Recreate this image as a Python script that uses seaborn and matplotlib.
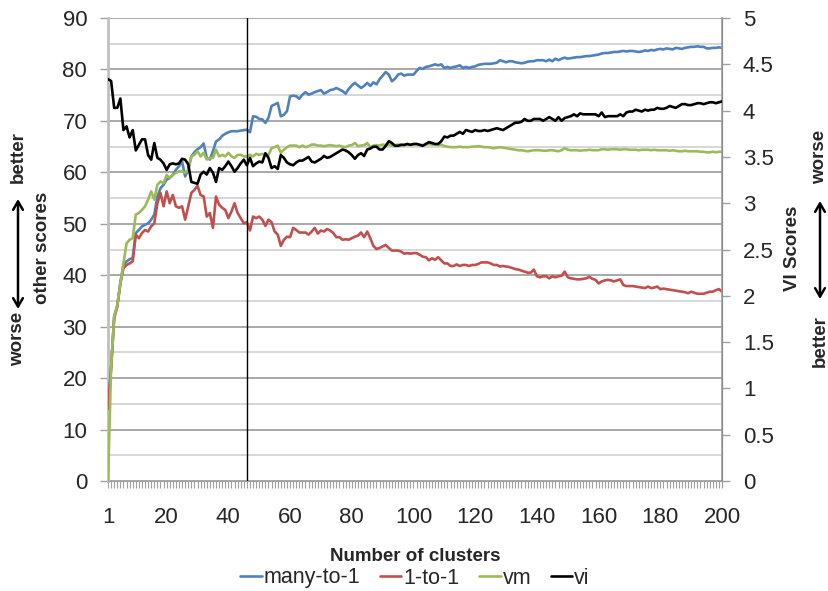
import matplotlib
matplotlib.use("Agg")
import matplotlib.pyplot as plt
from matplotlib.lines import Line2D
from matplotlib.patches import FancyArrowPatch
from matplotlib.ticker import MultipleLocator, FuncFormatter
import seaborn as sns
import pandas as pd

# Data
clusters = list(range(1, 201))

many_to_1 = [
    14.0, 22.0, 32.0, 34.0, 38.5, 42.0, 42.7, 43.1, 43.4, 48.2,
    48.8, 49.5, 49.8, 50.1, 50.8, 51.8, 55.3, 56.9, 57.6, 58.6,
    58.9, 59.5, 60.5, 61.2, 62.1, 59.2, 60.5, 63.1, 63.9, 64.5,
    64.9, 65.6, 62.8, 62.5, 64.1, 66.0, 66.4, 67.1, 67.5, 67.8,
    68.0, 68.0, 68.0, 68.1, 68.2, 68.3, 67.8, 70.9, 70.8, 70.4,
    70.3, 69.6, 70.6, 72.9, 73.2, 73.5, 70.9, 71.2, 71.9, 74.8,
    74.9, 74.8, 74.3, 75.1, 75.6, 75.1, 75.3, 75.6, 75.8, 76.0,
    75.3, 75.6, 76.0, 76.1, 76.4, 76.1, 75.8, 75.3, 76.2, 76.9,
    77.4, 76.9, 76.4, 76.8, 77.4, 76.8, 77.5, 77.1, 78.1, 78.8,
    79.5, 79.0, 77.7, 78.2, 79.0, 79.2, 78.8, 79.0, 79.0, 79.0,
    79.7, 80.3, 80.1, 80.5, 80.6, 80.8, 81.0, 80.8, 81.0, 80.3,
    80.5, 80.3, 80.5, 80.6, 80.8, 80.3, 80.5, 80.3, 80.5, 80.6,
    80.9, 81.0, 81.1, 81.1, 81.1, 81.2, 81.3, 81.8, 81.6, 81.4,
    81.6, 81.6, 81.4, 81.3, 81.2, 81.3, 81.5, 81.6, 81.6, 81.8,
    81.8, 81.8, 81.6, 81.9, 81.6, 82.1, 81.8, 82.1, 82.3, 82.1,
    82.2, 82.3, 82.4, 82.4, 82.5, 82.6, 82.6, 82.7, 82.8, 82.9,
    83.1, 83.2, 83.2, 83.3, 83.4, 83.4, 83.5, 83.6, 83.5, 83.6,
    83.6, 83.5, 83.4, 83.5, 83.7, 83.6, 83.8, 83.7, 83.9, 84.0,
    83.9, 84.1, 84.0, 83.9, 84.2, 84.1, 84.0, 84.2, 84.3, 84.4,
    84.4, 84.5, 84.4, 84.4, 84.1, 84.1, 84.2, 84.2, 84.3, 84.2,
]

one_to_1 = [
    14.0, 22.0, 31.6, 34.0, 38.4, 41.4, 42.0, 42.3, 42.7, 47.9,
    47.2, 48.2, 48.8, 48.5, 49.5, 50.1, 54.0, 56.0, 53.4, 56.3,
    54.0, 55.6, 53.4, 53.1, 53.4, 50.8, 53.4, 56.0, 56.6, 57.4,
    55.6, 55.3, 51.4, 52.1, 49.2, 55.3, 53.7, 53.1, 52.7, 51.1,
    52.4, 54.0, 52.1, 51.1, 50.1, 50.3, 48.7, 51.4, 51.1, 51.4,
    50.8, 49.6, 50.8, 50.3, 48.5, 47.9, 45.7, 46.9, 47.5, 47.4,
    49.2, 48.8, 48.3, 48.3, 48.3, 47.9, 48.5, 49.2, 48.1, 48.7,
    48.5, 49.0, 48.7, 48.2, 47.4, 47.4, 46.9, 47.0, 46.9, 47.2,
    47.5, 47.7, 48.3, 47.4, 48.5, 47.2, 45.7, 45.1, 45.3, 45.6,
    45.9, 45.3, 44.8, 44.8, 44.8, 44.6, 44.2, 44.3, 44.2, 44.3,
    44.3, 44.0, 43.6, 43.5, 42.9, 43.3, 43.0, 43.5, 42.9, 42.3,
    42.3, 41.8, 41.8, 42.1, 41.8, 42.0, 42.0, 41.8, 42.0, 42.0,
    42.2, 42.5, 42.5, 42.5, 42.3, 42.0, 42.0, 41.7, 41.8, 41.7,
    41.6, 41.4, 41.2, 41.1, 40.9, 40.7, 40.5, 40.5, 41.1, 39.8,
    39.6, 39.8, 39.8, 39.4, 39.8, 39.6, 39.8, 39.9, 40.7, 39.6,
    39.4, 39.3, 39.2, 39.2, 39.3, 39.4, 39.7, 39.3, 39.1, 38.4,
    38.8, 39.0, 39.1, 39.0, 38.8, 39.0, 39.2, 38.1, 37.9, 37.9,
    37.9, 37.8, 37.7, 37.6, 37.5, 37.8, 37.5, 37.6, 37.8, 37.3,
    37.4, 37.3, 37.2, 37.1, 37.0, 36.9, 36.8, 36.7, 36.5, 36.8,
    36.6, 36.4, 36.4, 36.4, 36.6, 36.8, 36.8, 37.1, 37.3, 36.8,
]

vm = [
    0.0, 22.0, 32.0, 34.2, 38.4, 42.3, 46.2, 46.9, 47.2, 51.8,
    52.1, 52.7, 53.4, 54.7, 56.3, 54.7, 57.6, 58.2, 57.9, 59.5,
    58.9, 59.5, 59.9, 60.2, 60.2, 59.9, 60.5, 63.1, 63.4, 64.1,
    63.1, 63.8, 62.5, 62.8, 62.8, 64.4, 63.1, 63.4, 63.1, 63.8,
    63.1, 62.8, 63.4, 63.4, 63.1, 63.1, 63.4, 63.1, 63.6, 63.4,
    63.6, 63.4, 63.4, 64.7, 64.9, 65.2, 63.8, 64.4, 64.9, 65.2,
    65.2, 65.2, 64.9, 65.2, 64.9, 65.1, 65.4, 65.4, 65.2, 65.2,
    65.1, 65.2, 65.3, 65.2, 65.1, 65.2, 65.0, 64.9, 65.2, 65.3,
    65.7, 65.1, 65.2, 65.3, 65.7, 64.9, 65.2, 65.3, 65.2, 65.4,
    65.3, 65.4, 65.2, 65.3, 65.4, 65.4, 65.3, 65.4, 65.4, 65.4,
    65.5, 65.4, 65.3, 65.4, 65.5, 65.4, 65.4, 65.3, 65.4, 65.1,
    65.0, 64.9, 64.9, 64.9, 65.0, 64.9, 64.9, 64.9, 65.0, 65.0,
    65.1, 65.0, 64.9, 64.9, 64.8, 64.7, 64.8, 64.9, 64.8, 64.7,
    64.6, 64.5, 64.4, 64.3, 64.3, 64.2, 64.1, 64.2, 64.3, 64.3,
    64.3, 64.2, 64.2, 64.3, 64.3, 64.2, 64.1, 64.3, 64.7, 64.4,
    64.3, 64.3, 64.3, 64.2, 64.3, 64.3, 64.4, 64.3, 64.3, 64.3,
    64.5, 64.5, 64.4, 64.5, 64.5, 64.5, 64.4, 64.5, 64.5, 64.4,
    64.4, 64.4, 64.3, 64.4, 64.4, 64.4, 64.3, 64.4, 64.3, 64.3,
    64.3, 64.3, 64.2, 64.3, 64.2, 64.1, 64.1, 64.2, 64.1, 64.1,
    64.1, 64.1, 64.0, 64.0, 63.9, 63.9, 64.0, 63.9, 64.0, 64.0,
]

vi = [
    4.34, 4.32, 4.03, 4.03, 4.13, 3.79, 3.83, 3.71, 3.79, 3.57,
    3.63, 3.69, 3.69, 3.52, 3.47, 3.65, 3.49, 3.47, 3.43, 3.36,
    3.42, 3.43, 3.42, 3.43, 3.48, 3.47, 3.42, 3.23, 3.22, 3.21,
    3.31, 3.34, 3.31, 3.38, 3.33, 3.23, 3.38, 3.36, 3.40, 3.45,
    3.40, 3.34, 3.38, 3.43, 3.47, 3.41, 3.49, 3.40, 3.43, 3.45,
    3.44, 3.54, 3.49, 3.38, 3.40, 3.37, 3.52, 3.49, 3.44, 3.42,
    3.41, 3.44, 3.46, 3.46, 3.48, 3.50, 3.45, 3.44, 3.46, 3.48,
    3.51, 3.49, 3.50, 3.52, 3.54, 3.56, 3.58, 3.57, 3.55, 3.52,
    3.48, 3.52, 3.54, 3.51, 3.58, 3.59, 3.61, 3.61, 3.58, 3.58,
    3.62, 3.67, 3.65, 3.62, 3.62, 3.63, 3.63, 3.64, 3.63, 3.64,
    3.64, 3.63, 3.62, 3.64, 3.66, 3.65, 3.64, 3.64, 3.67, 3.72,
    3.71, 3.73, 3.73, 3.75, 3.77, 3.75, 3.79, 3.78, 3.77, 3.79,
    3.78, 3.78, 3.79, 3.78, 3.79, 3.80, 3.81, 3.80, 3.79, 3.81,
    3.83, 3.85, 3.87, 3.87, 3.88, 3.91, 3.89, 3.89, 3.91, 3.91,
    3.91, 3.89, 3.91, 3.93, 3.91, 3.89, 3.93, 3.89, 3.92, 3.93,
    3.94, 3.96, 3.94, 3.97, 3.96, 3.96, 3.96, 3.96, 3.96, 3.94,
    3.98, 3.93, 3.94, 3.94, 3.94, 3.94, 3.96, 3.94, 3.98, 3.99,
    3.99, 4.01, 4.00, 3.99, 4.01, 4.00, 4.01, 4.01, 4.03, 4.02,
    4.02, 4.03, 4.05, 4.04, 4.03, 4.05, 4.07, 4.07, 4.06, 4.06,
    4.07, 4.08, 4.08, 4.07, 4.08, 4.09, 4.09, 4.08, 4.09, 4.10,
]

x_ticks = [1, 20, 40, 60, 80, 100, 120, 140, 160, 180, 200]
gold_clusters = 46

COLORS = {"many-to-1": "#4F81BD", "1-to-1": "#C0504D", "vm": "#9BBB59", "vi": "#000000"}

sns.set_style("white")
plt.rcParams["font.family"] = ["Liberation Sans", "DejaVu Sans"]

df = pd.DataFrame({"clusters": clusters, "many-to-1": many_to_1,
                   "1-to-1": one_to_1, "vm": vm, "vi": vi})

fig = plt.figure(figsize=(8.29, 5.91), dpi=100)
ax = fig.add_axes([0.1303, 0.1861, 0.7407, 0.7834])
ax2 = ax.twinx()

for name in ["many-to-1", "1-to-1", "vm"]:
    sns.lineplot(data=df, x="clusters", y=name, ax=ax, color=COLORS[name],
                 linewidth=1.9, legend=False, zorder=3)
sns.lineplot(data=df, x="clusters", y="vi", ax=ax2, color=COLORS["vi"],
             linewidth=1.9, legend=False, zorder=3)

ax.axvline(gold_clusters, color="black", linewidth=1.0, zorder=4)

# axes ranges / ticks
ax.set_xlim(1, 200)
ax.set_ylim(0, 90)
ax2.set_ylim(0, 5)
ax.set_xticks(x_ticks)
ax.xaxis.set_minor_locator(MultipleLocator(1))
ax.yaxis.set_major_locator(MultipleLocator(10))
ax.yaxis.set_minor_locator(MultipleLocator(5))
ax2.yaxis.set_major_locator(MultipleLocator(0.5))
ax2.yaxis.set_major_formatter(FuncFormatter(lambda v, p: f"{v:g}"))

ax.grid(which="major", axis="y", color="#9a9a9a", linewidth=1.2, zorder=0)
ax.grid(which="minor", axis="y", color="#cfcfcf", linewidth=1.2, zorder=0)
ax.set_axisbelow(True)

ax.tick_params(axis="x", which="major", length=5, width=0.8, color="#a0a0a0",
               labelsize=16, pad=14, direction="out", bottom=True)
ax.tick_params(axis="x", which="minor", length=5, width=0.8, color="#a0a0a0",
               direction="out", bottom=True)
ax.tick_params(axis="y", which="major", length=6, width=1, color="#a0a0a0",
               labelsize=16, pad=9, direction="out", left=True)
ax.tick_params(axis="y", which="minor", length=0)
ax2.tick_params(axis="y", length=6, width=1, color="#a0a0a0", labelsize=16,
                pad=9, direction="out", right=True)

for a in (ax, ax2):
    a.spines["top"].set_visible(False)
    a.set_xlabel("")
    a.set_ylabel("")
ax.spines["left"].set_color("#c0c0c0")
ax.spines["left"].set_linewidth(2.0)
ax.spines["bottom"].set_color("#a0a0a0")
ax2.spines["left"].set_visible(False)
ax2.spines["bottom"].set_visible(False)
ax2.spines["right"].set_color("#a0a0a0")
ax2.spines["right"].set_linewidth(1.2)

ax.set_xlabel("Number of clusters", fontsize=13.5, fontweight="bold", labelpad=14)

# left side annotations
fig.text(43 / 829, 1 - 248 / 591, "other scores", rotation=90, ha="center",
         va="center", fontsize=13.5, fontweight="bold")
fig.text(18 / 829, 1 - 157 / 591, "better", rotation=90, ha="center",
         va="center", fontsize=13.5, fontweight="bold")
fig.text(18 / 829, 1 - 339 / 591, "worse", rotation=90, ha="center",
         va="center", fontsize=13.5, fontweight="bold")
fig.add_artist(FancyArrowPatch(
    (18 / 829, 1 - 309 / 591), (18 / 829, 1 - 199 / 591),
    transform=fig.transFigure, arrowstyle="<->,head_length=6,head_width=3.5",
    color="black", linewidth=1.8, shrinkA=0, shrinkB=0))

# right side annotations
fig.text(793 / 829, 1 - 248 / 591, "VI Scores", rotation=90, ha="center",
         va="center", fontsize=13.5, fontweight="bold")
fig.text(820 / 829, 1 - 157 / 591, "worse", rotation=90, ha="center",
         va="center", fontsize=13.5, fontweight="bold")
fig.text(820 / 829, 1 - 341 / 591, "better", rotation=90, ha="center",
         va="center", fontsize=13.5, fontweight="bold")
fig.add_artist(FancyArrowPatch(
    (820 / 829, 1 - 299 / 591), (820 / 829, 1 - 201 / 591),
    transform=fig.transFigure, arrowstyle="<->,head_length=6,head_width=3.5",
    color="black", linewidth=1.8, shrinkA=0, shrinkB=0))

handles = [Line2D([0], [0], color=COLORS[n], linewidth=1.9) for n in COLORS]
fig.legend(handles, list(COLORS.keys()), loc="center", ncol=4,
           bbox_to_anchor=(415 / 829, 1 - 578 / 591), frameon=False,
           fontsize=15.5, handlelength=1.0, handletextpad=0.1,
           columnspacing=0.9, borderpad=0)

fig.savefig("out.png", dpi=100)
plt.close(fig)
